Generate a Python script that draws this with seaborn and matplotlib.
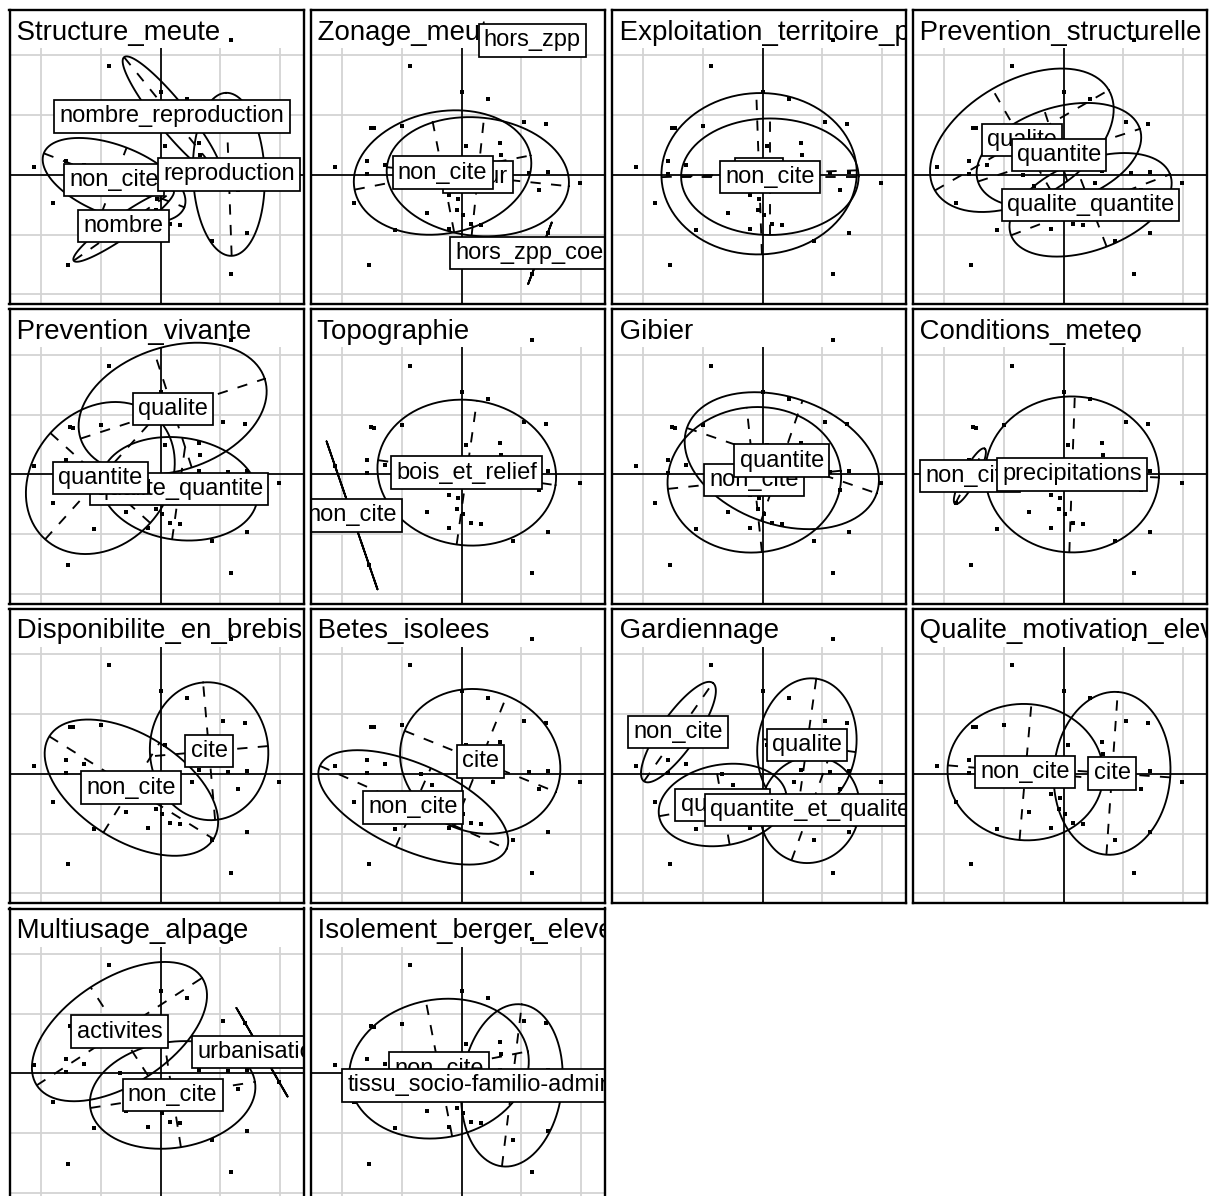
import numpy as np
import matplotlib
matplotlib.use("Agg")
import matplotlib.pyplot as plt
from matplotlib.patches import Rectangle
import seaborn as sns

sns.set_style("white")
plt.rcParams["font.family"] = ["Liberation Sans", "DejaVu Sans"]

# Coordinates of the individuals on the first two factorial axes
ind_x = [1.18, -0.86, 0.00, 0.44, -1.52, -1.47, -1.00, 1.05, 1.41, 0.07,
         0.64, 0.66, -2.12, -1.58, -1.28, -1.58, 1.12, 1.44, 1.98, 1.29,
         -1.80, -0.21, -0.07, -0.58, -0.08, 0.02, 0.16, 0.32, -1.12, -0.21,
         1.44, 0.86, -1.55, 1.18, -0.68, -0.50, 0.53, 0.64]
ind_y = [2.25, 1.82, 1.38, 1.27, 0.79, 0.78, 0.82, 0.88, 0.85, 0.49,
         0.53, 0.33, 0.14, 0.24, 0.16, 0.02, 0.04, 0.05, -0.14, -0.26,
         -0.47, -0.34, -0.40, -0.63, -0.58, -0.67, -0.82, -0.83, -0.92, -0.90,
         -0.97, -1.11, -1.51, -1.65, 0.00, -0.18, -0.14, 0.06]

# Per variable: level, class mean x, class mean y,
# sd along the principal axis, sd along the second axis, principal axis angle (deg)
STRUCTURE_MEUTE = [
    ("nombre", -0.62, -0.85, 0.68, 0.12, 35),
    ("nombre_reproduction", 0.19, 0.98, 0.85, 0.17, -51),
    ("non_cite", -0.78, -0.09, 0.84, 0.39, -21),
    ("reproduction", 1.14, 0.01, 0.91, 0.40, 92),
]
ZONAGE_MEUTE = [
    ("coeur", 0.27, -0.03, 1.02, 0.66, -6),
    ("hors_zpp", 1.18, 2.25, 0.0, 0.0, 0),
    ("hors_zpp_coeur", 1.31, -1.31, 0.367, 0.0, 69),
    ("non_cite", -0.32, 0.04, 1.00, 0.68, 11),
]
EXPLOITATION = [
    ("cite", -0.06, 0.02, 1.09, 0.90, 2),
    ("non_cite", 0.12, -0.03, 0.99, 0.65, 0),
]
PREVENTION_STRUCTURELLE = [
    ("qualite", -0.70, 0.58, 1.12, 0.66, 30),
    ("qualite_quantite", 0.45, -0.50, 0.95, 0.50, 21),
    ("quantite", -0.08, 0.33, 0.95, 0.53, 18),
]
PREVENTION_VIVANTE = [
    ("qualite", 0.20, 1.10, 1.08, 0.69, 18),
    ("qualite_quantite", 0.31, -0.24, 0.88, 0.57, -8),
    ("quantite", -1.01, -0.06, 0.92, 0.75, 48),
]
TOPOGRAPHIE = [
    ("bois_et_relief", 0.085, 0.03, 1.00, 0.81, -8),
    ("non_cite", -1.835, -0.685, 0.873, 0.0, 109),
]
GIBIER = [
    ("non_cite", -0.14, -0.09, 0.97, 0.81, 6),
    ("quantite", 0.32, 0.23, 1.12, 0.71, -19),
]
CONDITIONS_METEO = [
    ("non_cite", -1.57, -0.03, 0.35, 0.08, 62),
    ("precipitations", 0.14, 0.00, 0.97, 0.87, -2),
]
DISPONIBILITE = [
    ("cite", 0.81, 0.38, 0.77, 0.66, 95),
    ("non_cite", -0.49, -0.23, 1.08, 0.59, -32),
]
BETES_ISOLEES = [
    ("cite", 0.31, 0.21, 0.91, 0.79, -22),
    ("non_cite", -0.81, -0.56, 1.14, 0.48, -24),
]
GARDIENNAGE = [
    ("non_cite", -1.41, 0.70, 0.67, 0.20, 55),
    ("qualite", 0.74, 0.48, 0.75, 0.55, 82),
    ("quantite", -0.67, -0.52, 0.72, 0.45, 10),
    ("quantite_et_qualite", 0.79, -0.60, 0.60, 0.55, 70),
]
QUALITE_MOTIVATION = [
    ("cite", 0.81, 0.01, 0.91, 0.65, 86),
    ("non_cite", -0.64, 0.03, 0.87, 0.76, -5),
]
MULTIUSAGE = [
    ("activites", -0.69, 0.70, 1.10, 0.59, 33),
    ("non_cite", 0.20, -0.36, 0.93, 0.59, 9),
    ("urbanisation", 1.695, 0.355, 0.571, 0.0, 120),
]
ISOLEMENT = [
    ("non_cite", -0.38, 0.08, 1.01, 0.77, 11),
    ("tissu_socio-familio-administratif", 0.84, -0.20, 0.91, 0.56, 83),
]

PANELS = [
    ("Structure_meute", STRUCTURE_MEUTE),
    ("Zonage_meute", ZONAGE_MEUTE),
    ("Exploitation_territoire_pastoral", EXPLOITATION),
    ("Prevention_structurelle", PREVENTION_STRUCTURELLE),
    ("Prevention_vivante", PREVENTION_VIVANTE),
    ("Topographie", TOPOGRAPHIE),
    ("Gibier", GIBIER),
    ("Conditions_meteo", CONDITIONS_METEO),
    ("Disponibilite_en_brebis", DISPONIBILITE),
    ("Betes_isolees", BETES_ISOLEES),
    ("Gardiennage", GARDIENNAGE),
    ("Qualite_motivation_eleveur", QUALITE_MOTIVATION),
    ("Multiusage_alpage", MULTIUSAGE),
    ("Isolement_berger_eleveur", ISOLEMENT),
]

CELLIPSE = 1.5
DASH = (0, (5.5, 5.5))
LW = 1.35

# Plot limits: data range widened by 10 % on each side, then made square (asp = 1)
x = np.asarray(ind_x)
y = np.asarray(ind_y)
xr, yr = np.ptp(x), np.ptp(y)
xlim = [x.min() - xr / 10, x.max() + xr / 10]
ylim = [y.min() - yr / 10, y.max() + yr / 10]
span = max(xlim[1] - xlim[0], ylim[1] - ylim[0])
xc, yc = np.mean(xlim), np.mean(ylim)
xlim = [xc - span / 2, xc + span / 2] if xlim[1] - xlim[0] < span else xlim
ylim = [yc - span / 2, yc + span / 2]

W, H = 1216, 1196
PANEL = 294
COL_STEP, ROW_STEP = 301, 299.5
LEFT0, TOP0 = 9.5, 10
unit_px = PANEL / span

fig = plt.figure(figsize=(W / 100, H / 100), dpi=100)


def draw_class(ax, cx, cy, sd1, sd2, ang):
    a, b = CELLIPSE * sd1, CELLIPSE * sd2
    if a <= 0:
        return
    th = np.deg2rad(ang)
    ux, uy = np.cos(th), np.sin(th)
    t = np.linspace(0, 2 * np.pi, 101)
    ex = cx + a * np.cos(t) * ux - b * np.sin(t) * uy
    ey = cy + a * np.cos(t) * uy + b * np.sin(t) * ux
    ax.plot(ex, ey, color="black", lw=LW, zorder=6, solid_joinstyle="round")
    ax.plot([cx - a * ux, cx + a * ux], [cy - a * uy, cy + a * uy],
            color="black", lw=LW, ls=DASH, zorder=6)
    if b > 0:
        ax.plot([cx + b * uy, cx - b * uy], [cy - b * ux, cy + b * ux],
                color="black", lw=LW, ls=DASH, zorder=6)


for k, (title, classes) in enumerate(PANELS):
    r, c = divmod(k, 4)
    left = LEFT0 + c * COL_STEP
    top = TOP0 + r * ROW_STEP
    ax = fig.add_axes([left / W, 1 - (top + PANEL) / H, PANEL / W, PANEL / H])
    ax.set_xlim(xlim)
    ax.set_ylim(ylim)
    ax.set_xticks([])
    ax.set_yticks([])

    # grid and origin axes
    for v in range(-2, 3):
        ax.axvline(v, color="#d3d3d3", lw=1.3, zorder=1)
        ax.axhline(v, color="#d3d3d3", lw=1.3, zorder=1)
    ax.axhline(0, color="black", lw=1.25, zorder=2)
    ax.axvline(0, color="black", lw=1.25, zorder=2)

    # title strip
    band = 38 / unit_px
    ax.add_patch(Rectangle((xlim[0], ylim[1] - band), span, band,
                           facecolor="white", edgecolor="none", zorder=3))
    ax.text(xlim[0], ylim[1] - 29.5 / unit_px, " " + title, ha="left",
            va="baseline", fontsize=19.9, color="black", zorder=4, clip_on=True)

    # individuals
    sns.scatterplot(x=ind_x, y=ind_y, ax=ax, color="black", marker="s", s=11,
                    linewidth=0, zorder=5, legend=False)

    # class ellipses and labels
    for name, cx, cy, sd1, sd2, ang in classes:
        draw_class(ax, cx, cy, sd1, sd2, ang)
    for name, cx, cy, sd1, sd2, ang in classes:
        ax.text(cx, cy, name, ha="center", va="center", fontsize=17,
                color="black", zorder=7, clip_on=True,
                bbox=dict(boxstyle="square,pad=0.22", facecolor="white",
                          edgecolor="black", linewidth=1.25))

    for s in ax.spines.values():
        s.set_visible(True)
        s.set_color("black")
        s.set_linewidth(1.7)
        s.set_zorder(10)

fig.savefig("out.png", dpi=100)
